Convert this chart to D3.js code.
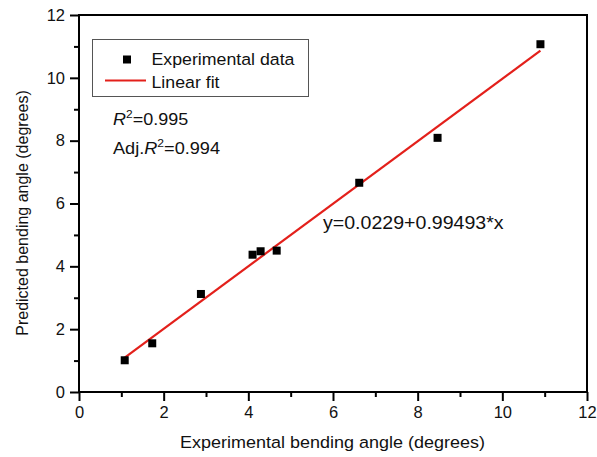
<!DOCTYPE html>
<html><head><meta charset="utf-8">
<script src="https://cdn.jsdelivr.net/npm/d3@7"></script>
<style>body{margin:0;background:#fff}svg{display:block;font-family:"Liberation Sans",Arial,sans-serif}</style>
</head><body>
<script>
const expX = [1.08, 1.73, 2.88, 4.10, 4.29, 4.67, 6.62, 8.47, 10.90];
const predY = [1.01, 1.55, 3.12, 4.37, 4.48, 4.50, 6.66, 8.09, 11.07];
const fitIntercept = 0.0229, fitSlope = 0.99493;
const xTicks = [0, 2, 4, 6, 8, 10, 12];
const yTicks = [0, 2, 4, 6, 8, 10, 12];
const legendLabels = ["Experimental data", "Linear fit"];

const W = 597, H = 457;
const L = 79, R = 587, T = 15, B = 392;
const svg = d3.select("body").append("svg").attr("width", W).attr("height", H);
const x = d3.scaleLinear().domain([0, 12]).range([L, R]);
const y = d3.scaleLinear().domain([0, 12]).range([B, T]);
const TXT = "#111";

// frame
svg.append("rect").attr("x", L).attr("y", T).attr("width", R - L).attr("height", B - T)
  .attr("fill", "none").attr("stroke", "#000").attr("stroke-width", 2);

// axes
const xAxis = svg.append("g").attr("transform", `translate(0,${B})`)
  .call(d3.axisBottom(x).tickValues(xTicks).tickSize(9).tickPadding(5).tickFormat(d3.format("d")));
const xMinor = svg.append("g").attr("transform", `translate(0,${B})`)
  .call(d3.axisBottom(x).tickValues(d3.range(1, 12, 2)).tickSize(5).tickFormat(""));
const yAxis = svg.append("g").attr("transform", `translate(${L},0)`)
  .call(d3.axisLeft(y).tickValues(yTicks).tickSize(9).tickPadding(5).tickFormat(d3.format("d")));
const yMinor = svg.append("g").attr("transform", `translate(${L},0)`)
  .call(d3.axisLeft(y).tickValues(d3.range(1, 12, 2)).tickSize(5).tickFormat(""));
[xAxis, xMinor, yAxis, yMinor].forEach(g => {
  g.select(".domain").remove();
  g.selectAll("line").attr("stroke", "#000").attr("stroke-width", 2);
  g.selectAll("text").attr("font-size", 16.5).attr("fill", TXT)
    .attr("font-family", "'Liberation Sans', Arial, sans-serif");
});

// fit line
const xmin = d3.min(expX), xmax = d3.max(expX);
svg.append("line")
  .attr("x1", x(xmin)).attr("y1", y(fitIntercept + fitSlope * xmin))
  .attr("x2", x(xmax)).attr("y2", y(fitIntercept + fitSlope * xmax))
  .attr("stroke", "#e3201b").attr("stroke-width", 2.2);

// points
const S = 8;
svg.append("g").selectAll("rect").data(expX).join("rect")
  .attr("x", (d) => x(d) - S / 2).attr("y", (d, i) => y(predY[i]) - S / 2)
  .attr("width", S).attr("height", S).attr("fill", "#000");

// helper for horizontally widened text
function wtext(px, py, size, sx, anchor) {
  return svg.append("text").attr("transform", `translate(${px},${py}) scale(${sx},1)`)
    .attr("font-size", size).attr("fill", TXT).attr("text-anchor", anchor || "start");
}

// legend
svg.append("rect").attr("x", 92.5).attr("y", 39.5).attr("width", 216).attr("height", 57)
  .attr("fill", "#fff").attr("stroke", "#555").attr("stroke-width", 1);
svg.append("rect").attr("x", 127 - S / 2).attr("y", 59.5 - S / 2).attr("width", S).attr("height", S).attr("fill", "#000");
svg.append("line").attr("x1", 105).attr("x2", 146).attr("y1", 80.5).attr("y2", 80.5)
  .attr("stroke", "#e3201b").attr("stroke-width", 2.2);
wtext(151.5, 64.5, 16.5, 1.076).text(legendLabels[0]);
wtext(151.5, 87.5, 16.5, 1.076).text(legendLabels[1]);

// R2 annotations
const r2 = wtext(113, 125, 16.5, 1.09);
r2.append("tspan").attr("font-style", "italic").text("R");
r2.append("tspan").attr("font-size", 11).attr("dy", -7).text("2");
r2.append("tspan").attr("dy", 7).text("=0.995");
const ar2 = wtext(113, 154, 16.5, 1.1);
ar2.append("tspan").text("Adj.");
ar2.append("tspan").attr("font-style", "italic").text("R");
ar2.append("tspan").attr("font-size", 11).attr("dy", -7).text("2");
ar2.append("tspan").attr("dy", 7).text("=0.994");

// equation
wtext(323, 228.5, 18, 1.088).text(`y=${fitIntercept}+${fitSlope}*x`);

// axis titles
wtext(332.5, 448, 16.5, 1.09, "middle").text("Experimental bending angle (degrees)");
svg.append("text").attr("transform", `translate(28,213) rotate(-90)`).attr("text-anchor", "middle")
  .attr("font-size", 16).attr("fill", TXT).text("Predicted bending angle (degrees)");
</script>
</body></html>
